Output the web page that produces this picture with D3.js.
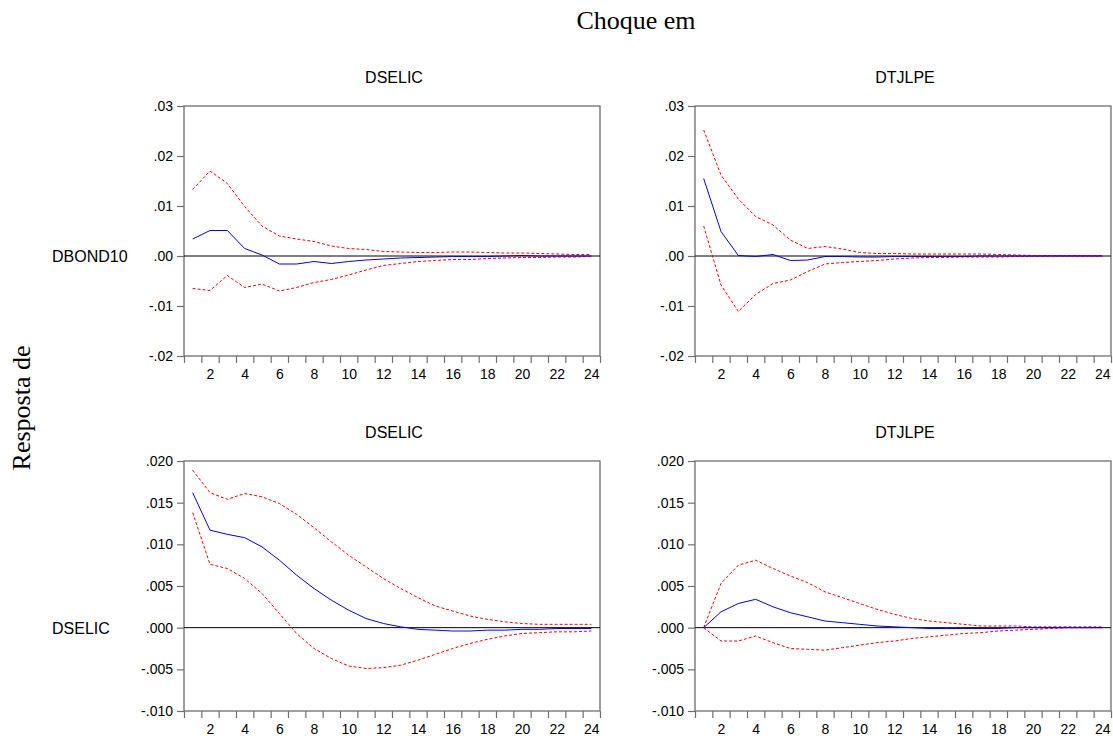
<!DOCTYPE html>
<html>
<head>
<meta charset="utf-8">
<script src="https://cdn.jsdelivr.net/npm/d3@7"></script>
<style>
  html, body { margin: 0; padding: 0; background: #ffffff; }
  svg { display: block; }
</style>
</head>
<body>
<svg id="chart" width="1113" height="736"></svg>
<script>
// ---------------- DATA ----------------
const periods = d3.range(1, 25);
const shockNames = ["DSELIC", "DTJLPE"];
const responseNames = ["DBOND10", "DSELIC"];

const xTickLabels = [2, 4, 6, 8, 10, 12, 14, 16, 18, 20, 22, 24];

const topTickValues = [-0.02, -0.01, 0.00, 0.01, 0.02, 0.03];
const topTickLabels = ["-.02", "-.01", ".00", ".01", ".02", ".03"];
const bottomTickValues = [-0.010, -0.005, 0.000, 0.005, 0.010, 0.015, 0.020];
const bottomTickLabels = ["-.010", "-.005", ".000", ".005", ".010", ".015", ".020"];

// Response of DBOND10 to DSELIC
const bond_selic = [0.0034, 0.0051, 0.0051, 0.0015, 0.0002, -0.0016, -0.0016, -0.0011, -0.0015, -0.0011, -0.0008, -0.0006, -0.0004, -0.0003, -0.0002, -0.0001, -0.0001, -0.0001, 0.0000, 0.0001, 0.0000, 0.0000, 0.0000, 0.0000];
const bond_selic_hi = [0.0133, 0.0170, 0.0145, 0.0099, 0.0060, 0.0040, 0.0034, 0.0029, 0.0020, 0.0015, 0.0013, 0.0009, 0.0008, 0.0007, 0.0007, 0.0008, 0.0008, 0.0007, 0.0006, 0.0006, 0.0005, 0.0004, 0.0003, 0.0003];
const bond_selic_lo = [-0.0065, -0.0069, -0.0039, -0.0063, -0.0056, -0.0070, -0.0063, -0.0053, -0.0047, -0.0038, -0.0028, -0.0019, -0.0015, -0.0011, -0.0009, -0.0007, -0.0007, -0.0005, -0.0004, -0.0003, -0.0003, -0.0002, -0.0002, -0.0001];

// Response of DBOND10 to DTJLPE
const bond_tjlp = [0.0155, 0.0049, 0.0001, -0.0001, 0.0003, -0.0009, -0.0008, -0.0001, -0.0001, -0.0002, -0.0002, -0.0001, -0.0001, -0.0001, -0.0001, -0.0001, 0.0000, 0.0000, 0.0000, 0.0000, 0.0000, 0.0000, 0.0000, 0.0000];
const bond_tjlp_hi = [0.0252, 0.0162, 0.0114, 0.0079, 0.0062, 0.0032, 0.0015, 0.0019, 0.0014, 0.0007, 0.0005, 0.0005, 0.0004, 0.0004, 0.0004, 0.0004, 0.0004, 0.0003, 0.0002, 0.0001, 0.0001, 0.0001, 0.0001, 0.0001];
const bond_tjlp_lo = [0.0060, -0.0058, -0.0111, -0.0077, -0.0055, -0.0048, -0.0031, -0.0016, -0.0013, -0.0011, -0.0009, -0.0006, -0.0004, -0.0003, -0.0003, -0.0002, -0.0002, -0.0002, -0.0001, -0.0001, 0.0000, 0.0000, 0.0000, 0.0000];

// Response of DSELIC to DSELIC
const selic_selic = [0.0162, 0.0117, 0.0112, 0.0108, 0.0097, 0.0081, 0.0063, 0.0047, 0.0033, 0.0021, 0.0011, 0.0005, 0.0001, -0.0002, -0.0003, -0.0004, -0.0004, -0.0003, -0.0003, -0.0002, -0.0002, -0.0001, -0.0001, -0.0001];
const selic_selic_hi = [0.0189, 0.0162, 0.0154, 0.0161, 0.0157, 0.0149, 0.0136, 0.0120, 0.0103, 0.0087, 0.0073, 0.0059, 0.0047, 0.0036, 0.0026, 0.0020, 0.0014, 0.0010, 0.0007, 0.0005, 0.0004, 0.0004, 0.0004, 0.0004];
const selic_selic_lo = [0.0138, 0.0076, 0.0071, 0.0059, 0.0041, 0.0017, -0.0007, -0.0025, -0.0037, -0.0046, -0.0049, -0.0048, -0.0045, -0.0039, -0.0032, -0.0025, -0.0019, -0.0014, -0.0010, -0.0007, -0.0006, -0.0005, -0.0005, -0.0004];

// Response of DSELIC to DTJLPE
const selic_tjlp = [0.0000, 0.0019, 0.0029, 0.0034, 0.0025, 0.0018, 0.0013, 0.0008, 0.0006, 0.0004, 0.0002, 0.0001, 0.0000, -0.0001, -0.0001, -0.0001, -0.0001, -0.0001, 0.0000, 0.0000, 0.0000, 0.0000, 0.0000, 0.0000];
const selic_tjlp_hi = [0.0000, 0.0053, 0.0075, 0.0081, 0.0071, 0.0062, 0.0054, 0.0043, 0.0036, 0.0029, 0.0022, 0.0016, 0.0011, 0.0008, 0.0006, 0.0004, 0.0002, 0.0002, 0.0002, 0.0001, 0.0001, 0.0001, 0.0001, 0.0001];
const selic_tjlp_lo = [0.0000, -0.0016, -0.0016, -0.0010, -0.0018, -0.0025, -0.0026, -0.0027, -0.0024, -0.0021, -0.0018, -0.0016, -0.0013, -0.0011, -0.0009, -0.0007, -0.0006, -0.0004, -0.0003, -0.0002, -0.0001, 0.0000, 0.0000, 0.0000];

// ---------------- LAYOUT ----------------
const svg = d3.select("#chart");
const sansFont = "'Liberation Sans', Arial, Helvetica, sans-serif";
const serifFont = "'Liberation Serif', 'Times New Roman', serif";

const cols = [{ x0: 184, x1: 600 }, { x0: 695, x1: 1111 }];
const rows = [{ y0: 106, y1: 356 }, { y0: 461, y1: 711 }];

const panels = [
  { r: 0, c: 0, mid: bond_selic, hi: bond_selic_hi, lo: bond_selic_lo },
  { r: 0, c: 1, mid: bond_tjlp, hi: bond_tjlp_hi, lo: bond_tjlp_lo },
  { r: 1, c: 0, mid: selic_selic, hi: selic_selic_hi, lo: selic_selic_lo },
  { r: 1, c: 1, mid: selic_tjlp, hi: selic_tjlp_hi, lo: selic_tjlp_lo }
];

const rowTicks = [
  { values: topTickValues, labels: topTickLabels },
  { values: bottomTickValues, labels: bottomTickLabels }
];

// Global titles
svg.append("text")
  .attr("x", 636).attr("y", 29)
  .attr("text-anchor", "middle")
  .attr("font-family", serifFont)
  .attr("font-size", 26)
  .attr("fill", "#000")
  .text("Choque em");

svg.append("text")
  .attr("transform", "translate(30,408) rotate(-90)")
  .attr("text-anchor", "middle")
  .attr("font-family", serifFont)
  .attr("font-size", 26)
  .attr("fill", "#000")
  .text("Resposta de");

// Row labels
rows.forEach((rw, i) => {
  const ticks = rowTicks[i];
  const y = d3.scaleLinear()
    .domain([ticks.values[0], ticks.values[ticks.values.length - 1]])
    .range([rw.y1, rw.y0]);
  svg.append("text")
    .attr("x", 52).attr("y", y(0) + 6)
    .attr("font-family", sansFont)
    .attr("font-size", 16)
    .attr("fill", "#000")
    .text(responseNames[i]);
});

panels.forEach(p => {
  const col = cols[p.c], rw = rows[p.r];
  const ticks = rowTicks[p.r];
  const g = svg.append("g");

  const x = d3.scaleLinear().domain([0.5, 24.5]).range([col.x0, col.x1]);
  const y = d3.scaleLinear()
    .domain([ticks.values[0], ticks.values[ticks.values.length - 1]])
    .range([rw.y1, rw.y0]);

  // panel title
  g.append("text")
    .attr("x", (col.x0 + col.x1) / 2 + 2)
    .attr("y", rw.y0 - 23)
    .attr("text-anchor", "middle")
    .attr("font-family", sansFont)
    .attr("font-size", 16)
    .attr("fill", "#000")
    .text(shockNames[p.c]);

  // frame
  g.append("rect")
    .attr("x", col.x0).attr("y", rw.y0)
    .attr("width", col.x1 - col.x0).attr("height", rw.y1 - rw.y0)
    .attr("fill", "none")
    .attr("stroke", "#6e6e6e")
    .attr("stroke-width", 1.3);

  // y axis
  const yAxis = d3.axisLeft(y)
    .tickValues(ticks.values)
    .tickFormat((d, i) => ticks.labels[i])
    .tickSize(7)
    .tickPadding(4);
  const ya = g.append("g").attr("transform", `translate(${col.x0},0)`).call(yAxis);
  ya.select(".domain").remove();
  ya.selectAll("line").attr("stroke", "#6e6e6e").attr("stroke-width", 1.2);
  ya.selectAll("text").attr("font-family", sansFont).attr("font-size", 14).attr("fill", "#000");

  // x axis: tick marks at band boundaries
  const xTicksAxis = d3.axisBottom(x)
    .tickValues(d3.range(0.5, 25, 1))
    .tickFormat("")
    .tickSize(7);
  const xa = g.append("g").attr("transform", `translate(0,${rw.y1})`).call(xTicksAxis);
  xa.select(".domain").remove();
  xa.selectAll("line").attr("stroke", "#6e6e6e").attr("stroke-width", 1.2);

  // x axis labels at even periods
  const xLabAxis = d3.axisBottom(x)
    .tickValues(xTickLabels)
    .tickFormat(d3.format("d"))
    .tickSize(0)
    .tickPadding(13);
  const xl = g.append("g").attr("transform", `translate(0,${rw.y1})`).call(xLabAxis);
  xl.select(".domain").remove();
  xl.selectAll("text").attr("font-family", sansFont).attr("font-size", 14).attr("fill", "#000");

  // zero line
  g.append("line")
    .attr("x1", col.x0).attr("x2", col.x1)
    .attr("y1", y(0)).attr("y2", y(0))
    .attr("stroke", "#000")
    .attr("stroke-width", 1);

  const line = d3.line()
    .x((d, i) => x(periods[i]))
    .y(d => y(d));

  // confidence bands
  [p.hi, p.lo].forEach(arr => {
    g.append("path")
      .attr("d", line(arr))
      .attr("fill", "none")
      .attr("stroke", "#ff0000")
      .attr("stroke-width", 1)
      .attr("stroke-dasharray", "3,2");
  });

  // response
  g.append("path")
    .attr("d", line(p.mid))
    .attr("fill", "none")
    .attr("stroke", "#0000ff")
    .attr("stroke-width", 1);
});
</script>
</body>
</html>
